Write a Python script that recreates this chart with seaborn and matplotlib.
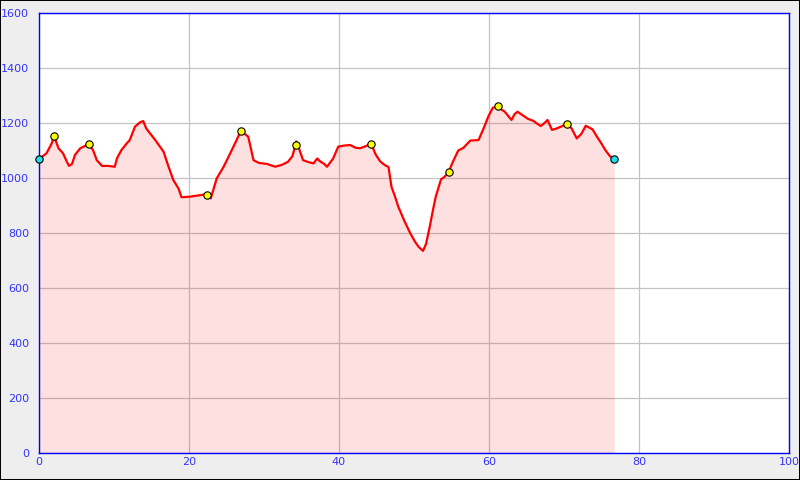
import matplotlib
matplotlib.use("Agg")
import matplotlib.pyplot as plt
import seaborn as sns
import pandas as pd

# Distance (km) and elevation (m) of the profile
dist = [0.0, 1.0, 1.7, 2.0, 2.6, 3.2, 3.7, 4.0, 4.4, 4.8, 5.5, 6.1, 6.6, 7.2, 7.7, 8.4,
        9.2, 10.1, 10.4, 11.0, 11.7, 12.1, 12.8, 13.5, 13.9, 14.3, 15.5, 16.6, 17.2,
        17.9, 18.6, 19.0, 20.1, 22.1, 22.4, 22.9, 23.7, 24.6, 25.5, 26.3, 26.9, 27.9,
        28.6, 29.3, 30.4, 31.5, 32.4, 33.2, 33.8, 34.3, 34.7, 35.2, 35.9, 36.6, 37.1,
        37.5, 38.0, 38.4, 39.2, 39.9, 40.7, 41.5, 42.2, 42.8, 43.5, 44.3, 44.9, 45.5,
        46.1, 46.6, 47.0, 47.5, 47.9, 48.7, 49.5, 50.1, 50.6, 51.2, 51.6, 52.1, 52.5,
        52.9, 53.6, 54.1, 54.6, 55.2, 55.9, 56.6, 57.5, 58.6, 59.2, 59.9, 60.5, 61.2,
        61.6, 62.1, 63.0, 63.4, 63.8, 64.5, 65.2, 65.9, 66.4, 66.9, 67.4, 67.8, 68.4,
        69.0, 69.7, 70.4, 71.0, 71.7, 72.3, 72.9, 73.8, 74.4, 75.0, 75.5, 76.1, 76.7]
elev = [1069, 1090, 1126, 1153, 1108, 1090, 1060, 1044, 1051, 1084, 1108, 1116, 1124, 1102, 1065, 1044,
        1044, 1041, 1072, 1102, 1126, 1138, 1187, 1203, 1207, 1180, 1138, 1096, 1047,
        993, 962, 930, 932, 940, 938, 926, 999, 1040, 1090, 1135, 1172, 1150,
        1065, 1055, 1051, 1041, 1048, 1059, 1080, 1133, 1105, 1065, 1058, 1053, 1071,
        1060, 1052, 1041, 1070, 1114, 1118, 1120, 1110, 1108, 1115, 1124, 1085, 1060,
        1047, 1040, 968, 930, 896, 845, 799, 770, 750, 735, 760, 823, 880,
        932, 995, 1005, 1021, 1060, 1100, 1110, 1136, 1138, 1175, 1223, 1255, 1262,
        1250, 1241, 1211, 1232, 1241, 1228, 1215, 1208, 1198, 1189, 1200, 1211, 1175,
        1180, 1188, 1196, 1181, 1144, 1160, 1190, 1177, 1150, 1125, 1102, 1080, 1068]

# Waypoint markers
way_x = [2.0, 6.6, 22.4, 26.9, 34.3, 44.3, 54.6, 61.2, 70.4]
way_y = [1153, 1124, 938, 1172, 1120, 1124, 1021, 1262, 1196]
end_x = [0.0, 76.7]
end_y = [1069, 1068]

x_ticks = [0, 20, 40, 60, 80, 100]
y_ticks = [0, 200, 400, 600, 800, 1000, 1200, 1400, 1600]

sns.set_theme(style="white")
plt.rcParams['font.family'] = ['DejaVu Sans']

df = pd.DataFrame({"dist": dist, "elev": elev})
wp = pd.DataFrame({"x": way_x, "y": way_y})
ep = pd.DataFrame({"x": end_x, "y": end_y})

fig = plt.figure(figsize=(8, 4.8), dpi=100, facecolor="#EEEEEE",
                 edgecolor="black", linewidth=1.2)
ax = fig.add_axes([39 / 800, 27 / 480, 750 / 800, 440 / 480])
ax.set_facecolor("white")

ax.set_xlim(0, 100)
ax.set_ylim(0, 1600)
ax.set_xticks(x_ticks)
ax.set_yticks(y_ticks)
ax.grid(True, color="#C4C4C4", linewidth=0.9)
ax.set_axisbelow(True)

ax.fill_between(df["dist"], df["elev"], 0, color="red", alpha=0.12, linewidth=0, zorder=2)
sns.lineplot(data=df, x="dist", y="elev", ax=ax, color="#FF0000", linewidth=1.6,
             zorder=3, estimator=None, sort=False)
sns.scatterplot(data=wp, x="x", y="y", ax=ax, color="#FFFF00", edgecolor="black",
                linewidth=0.8, s=28, zorder=4, clip_on=False)
sns.scatterplot(data=ep, x="x", y="y", ax=ax, color="#22DDEE", edgecolor="black",
                linewidth=0.8, s=28, zorder=4, clip_on=False)

ax.set_xlabel("")
ax.set_ylabel("")
for s in ax.spines.values():
    s.set_color("#0000FF")
    s.set_linewidth(1)
ax.tick_params(axis="both", length=0, labelsize=8, labelcolor="#3333FF")
ax.tick_params(axis="x", pad=3)
ax.tick_params(axis="y", pad=7)

fig.savefig("out.png", dpi=100, facecolor=fig.get_facecolor(), edgecolor=fig.get_edgecolor())
